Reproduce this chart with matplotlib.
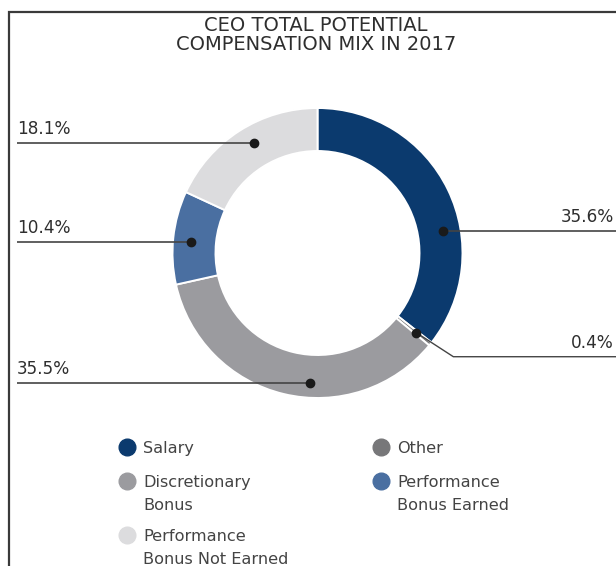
import numpy as np
import matplotlib
matplotlib.use("Agg")
import matplotlib.pyplot as plt

# data
categories = ["Salary", "Other", "Discretionary Bonus",
              "Performance Bonus Earned", "Performance Bonus Not Earned"]
shares = [35.6, 0.4, 35.5, 10.4, 18.1]
colors = ["#0b3a6e", "#777779", "#9b9b9f", "#4a6fa1", "#dcdcde"]
legend_labels = ["Salary", "Other", "Discretionary\nBonus",
                 "Performance\nBonus Earned", "Performance\nBonus Not Earned"]
title = "CEO TOTAL POTENTIAL\nCOMPENSATION MIX IN 2017"

W, H = 616, 566
CX, CY, R, RING = 317.5, 253, 145, 43
DOT_R = 127
TXT = "#2e2e2e"
LINE = "#444444"

plt.rcParams["font.family"] = ["DejaVu Sans"]

fig = plt.figure(figsize=(W / 100, H / 100), dpi=100)
ax = fig.add_axes([0, 0, 1, 1])

# y axis is inverted, so counterclock in data = clockwise on screen
ax.pie(shares, colors=colors, startangle=-90, counterclock=True,
       radius=R, center=(CX, CY),
       wedgeprops=dict(width=RING, edgecolor="white", linewidth=1.4))
ax.set_xlim(0, W)
ax.set_ylim(H, 0)
ax.set_aspect("equal")
ax.axis("off")

# frame of the original box (left and top edges)
ax.plot([9, 9, W], [H, 12, 12], color="#3a3a3a", lw=1.6, solid_joinstyle="miter")

ax.text(316, 16, title, ha="center", va="top", fontsize=14, color=TXT,
        linespacing=1.02)

# leader lines: screen y of each horizontal leader (Other gets an elbow)
leader_y = {"Salary": 231, "Discretionary Bonus": 383,
            "Performance Bonus Earned": 242, "Performance Bonus Not Earned": 143}

cum = np.cumsum([0] + shares)
for i, (cat, v) in enumerate(zip(categories, shares)):
    mid = (cum[i] + cum[i + 1]) / 2 / 100 * 2 * np.pi  # clockwise from top
    right = np.sin(mid) > 0
    label = f"{v:.1f}%"
    if cat in leader_y:
        y = leader_y[cat]
        r = max(DOT_R, np.hypot(y - CY, 8))
        dx = np.sqrt(r ** 2 - (y - CY) ** 2)
        x = CX + dx if right else CX - dx
        xs = [x, W] if right else [17, x]
        ax.plot(xs, [y, y], color=LINE, lw=1.2, solid_capstyle="butt")
        ax.plot(x, y, "o", color="#1a1a1a", ms=6)
        ty = y - 9
    else:
        x = CX + DOT_R * np.sin(mid)
        y = CY - DOT_R * np.cos(mid)
        ex, ey = x + 37, y + 24
        ax.plot([x, ex, W], [y, ey, ey], color=LINE, lw=1.0)
        ax.plot(x, y, "o", color="#1a1a1a", ms=6)
        ty = ey - 9
    if right:
        ax.text(614, ty, label, ha="right", va="baseline", fontsize=12.2, color=TXT)
    else:
        ax.text(17, ty, label, ha="left", va="baseline", fontsize=12.2, color=TXT)

# legend, two columns
legend_pos = [(127, 447), (381, 447), (127, 481), (381, 481), (127, 535)]
for (lx, ly), lab, col in zip(legend_pos, legend_labels, colors):
    ax.plot(lx, ly, "o", color=col, ms=12)
    for k, line in enumerate(lab.split("\n")):
        ax.text(lx + 16, ly + 6 + k * 23, line, ha="left", va="baseline",
                fontsize=11.6, color="#444444")

fig.savefig("out.png", dpi=100)
